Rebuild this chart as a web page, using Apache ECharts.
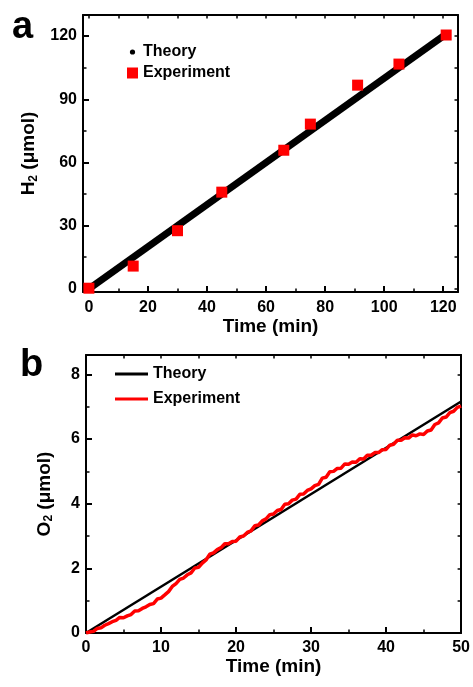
<!DOCTYPE html>
<html>
<head>
<meta charset="utf-8">
<script src="https://cdn.jsdelivr.net/npm/echarts@6/dist/echarts.min.js"></script>
<style>
html, body { margin: 0; padding: 0; background: #fff; }
#main { width: 473px; height: 687px; }
</style>
</head>
<body>
<div id="main"></div>
<script>
//============================  panel a : H2  ==============
var timeA = [0, 15, 30, 45, 66, 75, 91, 105, 121];
var h2Exp = [0.3, 10.8, 27.6, 45.9, 65.8, 78.2, 96.7, 106.7, 120.5];
var theoryTimeA = [0, 120];
var theoryH2 = [0, 120];
var xTicksA = [0, 20, 40, 60, 80, 100, 120];
var xMinorA = [10, 30, 50, 70, 90, 110];
var yTicksA = [0, 30, 60, 90, 120];
var yMinorA = [15, 45, 75, 105];

//============================  panel b : O2  ==============
var timeB = [0, 0.5, 1, 1.5, 2, 2.5, 3, 3.5, 4, 4.5, 5, 5.5, 6, 6.5, 7, 7.5, 8, 8.5, 9, 9.5,
    10, 10.5, 11, 11.5, 12, 12.5, 13, 13.5, 14, 14.5, 15, 15.5, 16, 16.5, 17, 17.5, 18, 18.5, 19, 19.5,
    20, 20.5, 21, 21.5, 22, 22.5, 23, 23.5, 24, 24.5, 25, 25.5, 26, 26.5, 27, 27.5, 28, 28.5, 29, 29.5,
    30, 30.5, 31, 31.5, 32, 32.5, 33, 33.5, 34, 34.5, 35, 35.5, 36, 36.5, 37, 37.5, 38, 38.5, 39, 39.5,
    40, 40.5, 41, 41.5, 42, 42.5, 43, 43.5, 44, 44.5, 45, 45.5, 46, 46.5, 47, 47.5, 48, 48.5, 49, 49.5, 50];
var o2Exp = [0.00, 0.03, 0.05, 0.14, 0.16, 0.24, 0.29, 0.35, 0.39, 0.48, 0.47, 0.53, 0.57, 0.68, 0.69, 0.76, 0.81, 0.88, 0.91, 1.05,
    1.08, 1.18, 1.28, 1.44, 1.53, 1.66, 1.70, 1.80, 1.86, 2.01, 2.03, 2.16, 2.26, 2.44, 2.48, 2.58, 2.64, 2.76, 2.76, 2.83,
    2.84, 2.97, 3.00, 3.11, 3.16, 3.32, 3.34, 3.47, 3.53, 3.66, 3.68, 3.79, 3.82, 3.98, 4.00, 4.11, 4.14, 4.29, 4.30, 4.41,
    4.46, 4.56, 4.60, 4.79, 4.82, 4.99, 5.00, 5.09, 5.10, 5.23, 5.22, 5.29, 5.28, 5.39, 5.38, 5.50, 5.50, 5.58, 5.58, 5.67,
    5.68, 5.81, 5.84, 5.96, 5.96, 6.04, 6.03, 6.13, 6.10, 6.16, 6.14, 6.25, 6.28, 6.45, 6.50, 6.65, 6.68, 6.82, 6.86, 6.98, 7.02];
var theoryTimeB = [0, 50];
var theoryO2 = [0, 7.16];
var xTicksB = [0, 10, 20, 30, 40, 50];
var xMinorB = [5, 15, 25, 35, 45];
var yTicksB = [0, 2, 4, 6, 8];
var yMinorB = [1, 3, 5, 7];

function pairs(xs, ys) {
    var arr = [];
    for (var i = 0; i < xs.length; i++) {
        arr.push([xs[i], ys[i]]);
    }
    return arr;
}

var font = 'Liberation Sans';
var lineStyle = { color: '#000', width: 2 };

// major axis : line + ticks (+ labels / name)
function majorAxis(grid, pos, min, max, ticks, showLabel, name, gap, margin) {
    return {
        type: 'value', gridIndex: grid, position: pos, min: min, max: max,
        axisLine: { show: true, onZero: false, lineStyle: lineStyle },
        axisTick: { show: true, inside: true, length: 6, customValues: ticks, lineStyle: { color: '#000', width: 2 } },
        axisLabel: {
            show: showLabel, customValues: ticks, margin: margin,
            color: '#000', fontSize: 16, fontWeight: 'bold', fontFamily: font
        },
        splitLine: { show: false },
        name: name || '',
        nameLocation: 'middle',
        nameGap: gap,
        nameTextStyle: {
            color: '#000', fontSize: 19, fontWeight: 'bold', fontFamily: font,
            rich: { sub: { fontSize: 12, fontWeight: 'bold', fontFamily: font, color: '#000', padding: [9, 0, 0, 0] } }
        }
    };
}
// extra axis carrying only short ticks
function tickAxis(grid, pos, min, max, ticks, showLine) {
    return {
        type: 'value', gridIndex: grid, position: pos, min: min, max: max,
        axisLine: { show: showLine, onZero: false, lineStyle: lineStyle },
        axisTick: { show: true, inside: true, length: 3.5, customValues: ticks, lineStyle: { color: '#000', width: 1.5 } },
        axisLabel: { show: false },
        splitLine: { show: false }
    };
}

var chart = echarts.init(document.getElementById('main'));

var option = {
    backgroundColor: '#fff',
    animation: false,
    title: [
        { text: 'a', left: 7, top: 4, textStyle: { fontSize: 38, fontWeight: 'bold', fontFamily: font, color: '#000' } },
        { text: 'b', left: 15, top: 342, textStyle: { fontSize: 38, fontWeight: 'bold', fontFamily: font, color: '#000' } }
    ],
    grid: [
        { left: 83, top: 15, width: 375, height: 277 },
        { left: 86, top: 355, width: 376, height: 278 }
    ],
    legend: [
        {
            orient: 'vertical', left: 122, top: 39, itemGap: 5,
            itemWidth: 11, itemHeight: 11,
            textStyle: { fontSize: 16, fontWeight: 'bold', fontFamily: font, color: '#000' },
            data: [
                { name: 'Theory', icon: 'image://data:image/svg+xml;utf8,' + encodeURIComponent('<svg xmlns="http://www.w3.org/2000/svg" width="11" height="11"><circle cx="5.5" cy="5.5" r="2.6" fill="#000"/></svg>') },
                { name: 'Experiment', icon: 'rect' }
            ]
        },
        {
            orient: 'vertical', left: 110, top: 361, itemGap: 9,
            itemWidth: 33, itemHeight: 3,
            textStyle: { fontSize: 16, fontWeight: 'bold', fontFamily: font, color: '#000' },
            data: [
                { name: 'Theory ', icon: 'rect' },
                { name: 'Experiment ', icon: 'rect' }
            ]
        }
    ],
    xAxis: [
        majorAxis(0, 'bottom', -2, 125, xTicksA, true, 'Time (min)', 24, 8),
        tickAxis(0, 'bottom', -2, 125, xMinorA, false),
        tickAxis(0, 'top', -2, 125, xTicksA.concat(xMinorA), true),
        majorAxis(1, 'bottom', 0, 50, xTicksB, true, 'Time (min)', 24, 7),
        tickAxis(1, 'bottom', 0, 50, xMinorB, false),
        tickAxis(1, 'top', 0, 50, xTicksB.concat(xMinorB), true)
    ],
    yAxis: [
        majorAxis(0, 'left', -1.5, 130, yTicksA, true, 'H{sub|2} (μmol)', 41, 6),
        tickAxis(0, 'left', -1.5, 130, yMinorA, false),
        tickAxis(0, 'right', -1.5, 130, yTicksA.concat(yMinorA), true),
        majorAxis(1, 'left', 0, 8.6, yTicksB, true, 'O{sub|2} (μmol)', 31, 6),
        tickAxis(1, 'left', 0, 8.6, yMinorB, false),
        tickAxis(1, 'right', 0, 8.6, yTicksB.concat(yMinorB), true)
    ],
    series: [
        {
            name: 'Theory', type: 'line', xAxisIndex: 0, yAxisIndex: 0, z: 2,
            data: pairs(theoryTimeA, theoryH2), showSymbol: false, symbol: 'none',
            itemStyle: { color: '#000' }, lineStyle: { color: '#000', width: 7 }
        },
        {
            name: 'Experiment', type: 'scatter', xAxisIndex: 0, yAxisIndex: 0, z: 5,
            data: pairs(timeA, h2Exp), symbol: 'rect', symbolSize: 11,
            itemStyle: { color: '#ff0000', opacity: 1 }
        },
        {
            name: 'Theory ', type: 'line', xAxisIndex: 3, yAxisIndex: 3, z: 2,
            data: pairs(theoryTimeB, theoryO2), showSymbol: false, symbol: 'none',
            itemStyle: { color: '#000' }, lineStyle: { color: '#000', width: 2.5 }
        },
        {
            name: 'Experiment ', type: 'line', xAxisIndex: 3, yAxisIndex: 3, z: 3,
            data: pairs(timeB, o2Exp), showSymbol: false, symbol: 'none',
            itemStyle: { color: '#ff0000' }, lineStyle: { color: '#ff0000', width: 3.5 }
        }
    ]
};
chart.setOption(option);
</script>
</body>
</html>
